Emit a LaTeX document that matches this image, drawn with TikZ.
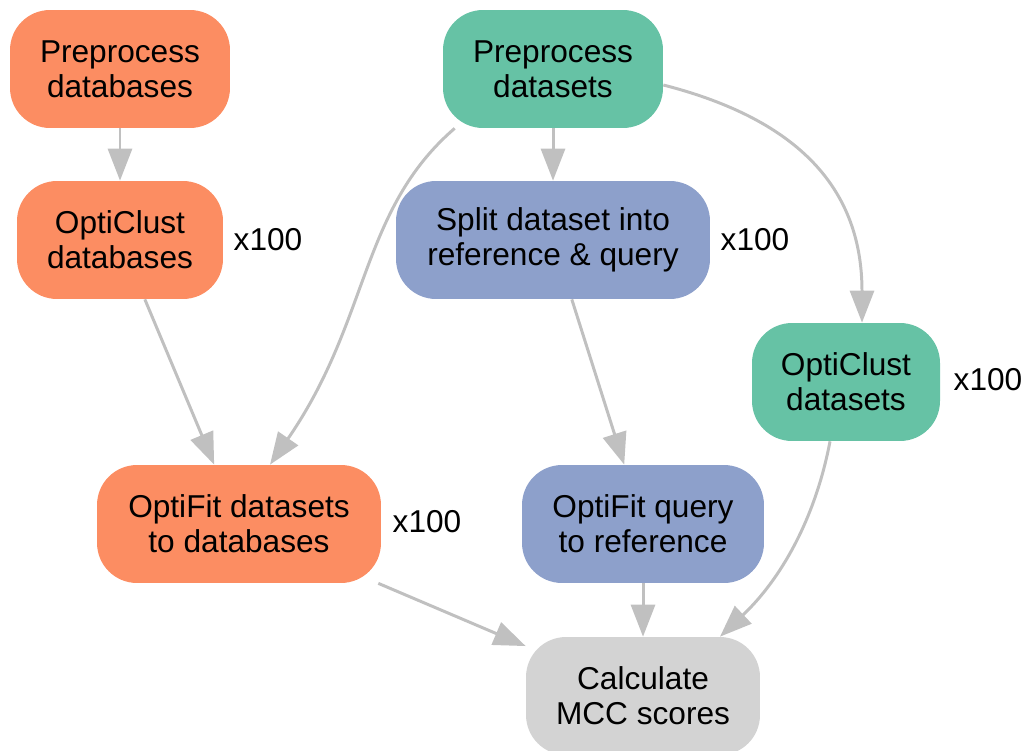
\documentclass[tikz,border=0pt]{standalone}
\usepackage{fontspec}
\setmainfont{Liberation Sans}
\usetikzlibrary{arrows.meta,calc}
\definecolor{orangec}{HTML}{FC8D62}
\definecolor{tealc}{HTML}{66C2A5}
\definecolor{bluec}{HTML}{8DA0CB}
\definecolor{grayc}{HTML}{D3D3D3}
\definecolor{edgec}{HTML}{C0C0C0}
\begin{document}
\begin{tikzpicture}[x=0.02cm,y=-0.02cm,
  box/.style={rounded corners=0.8cm, inner sep=0pt, align=center,
    minimum height=2.36cm, font=\fontsize{18}{19.8}\selectfont},
  rep/.style={font=\fontsize{18}{19.8}\selectfont},
  conn/.style={draw=edgec, line width=1.7pt,
    -{Triangle[length=0.64cm,width=0.48cm,fill=edgec]}}]
\useasboundingbox (0,0) rectangle (1026,750);
\node[box, fill=orangec, minimum width=4.4cm] (pdb) at (120,69) {Preprocess\\databases};
\node[box, fill=tealc, minimum width=4.4cm] (pds) at (553,69) {Preprocess\\datasets};
\node[box, fill=orangec, minimum width=4.12cm] (ocdb) at (120,240) {OptiClust\\databases};
\node[box, fill=bluec, minimum width=6.28cm] (split) at (553,240) {Split dataset into\\reference \& query};
\node[box, fill=tealc, minimum width=3.76cm] (ocds) at (846,382) {OptiClust\\datasets};
\node[box, fill=orangec, minimum width=5.68cm] (ofdb) at (239,524) {OptiFit datasets\\to databases};
\node[box, fill=bluec, minimum width=4.84cm] (ofq) at (643,524) {OptiFit query\\to reference};
\node[box, fill=grayc, minimum width=4.68cm] (mcc) at (643,696) {Calculate\\MCC scores};
\node[rep] (r1) at (268,240) {x100};
\node[rep] (r2) at (755,240) {x100};
\node[rep] (r3) at (988,380) {x100};
\node[rep] (r4) at (427,522) {x100};
\draw[conn] (pdb) -- (ocdb);
\draw[conn] (pds) -- (split);
\draw[conn] (ocdb) -- (ofdb);
\draw[conn] (split) -- (ofq);
\draw[conn] (ofdb) -- (mcc);
\draw[conn] (ofq) -- (mcc);
\draw[conn] ($(pds.south west)+(12,0)$) .. controls (360,210) and (370,320) .. ($(ofdb.north)+(31,0)$);
\draw[conn] ($(pds.east)+(0,16)$) .. controls (800,120) and (862,190) .. ($(ocds.north)+(16,0)$);
\draw[conn] ($(ocds.south)+(-16,0)$) .. controls (815,520) and (780,580) .. ($(mcc.north)+(77,0)$);
\end{tikzpicture}
\end{document}
